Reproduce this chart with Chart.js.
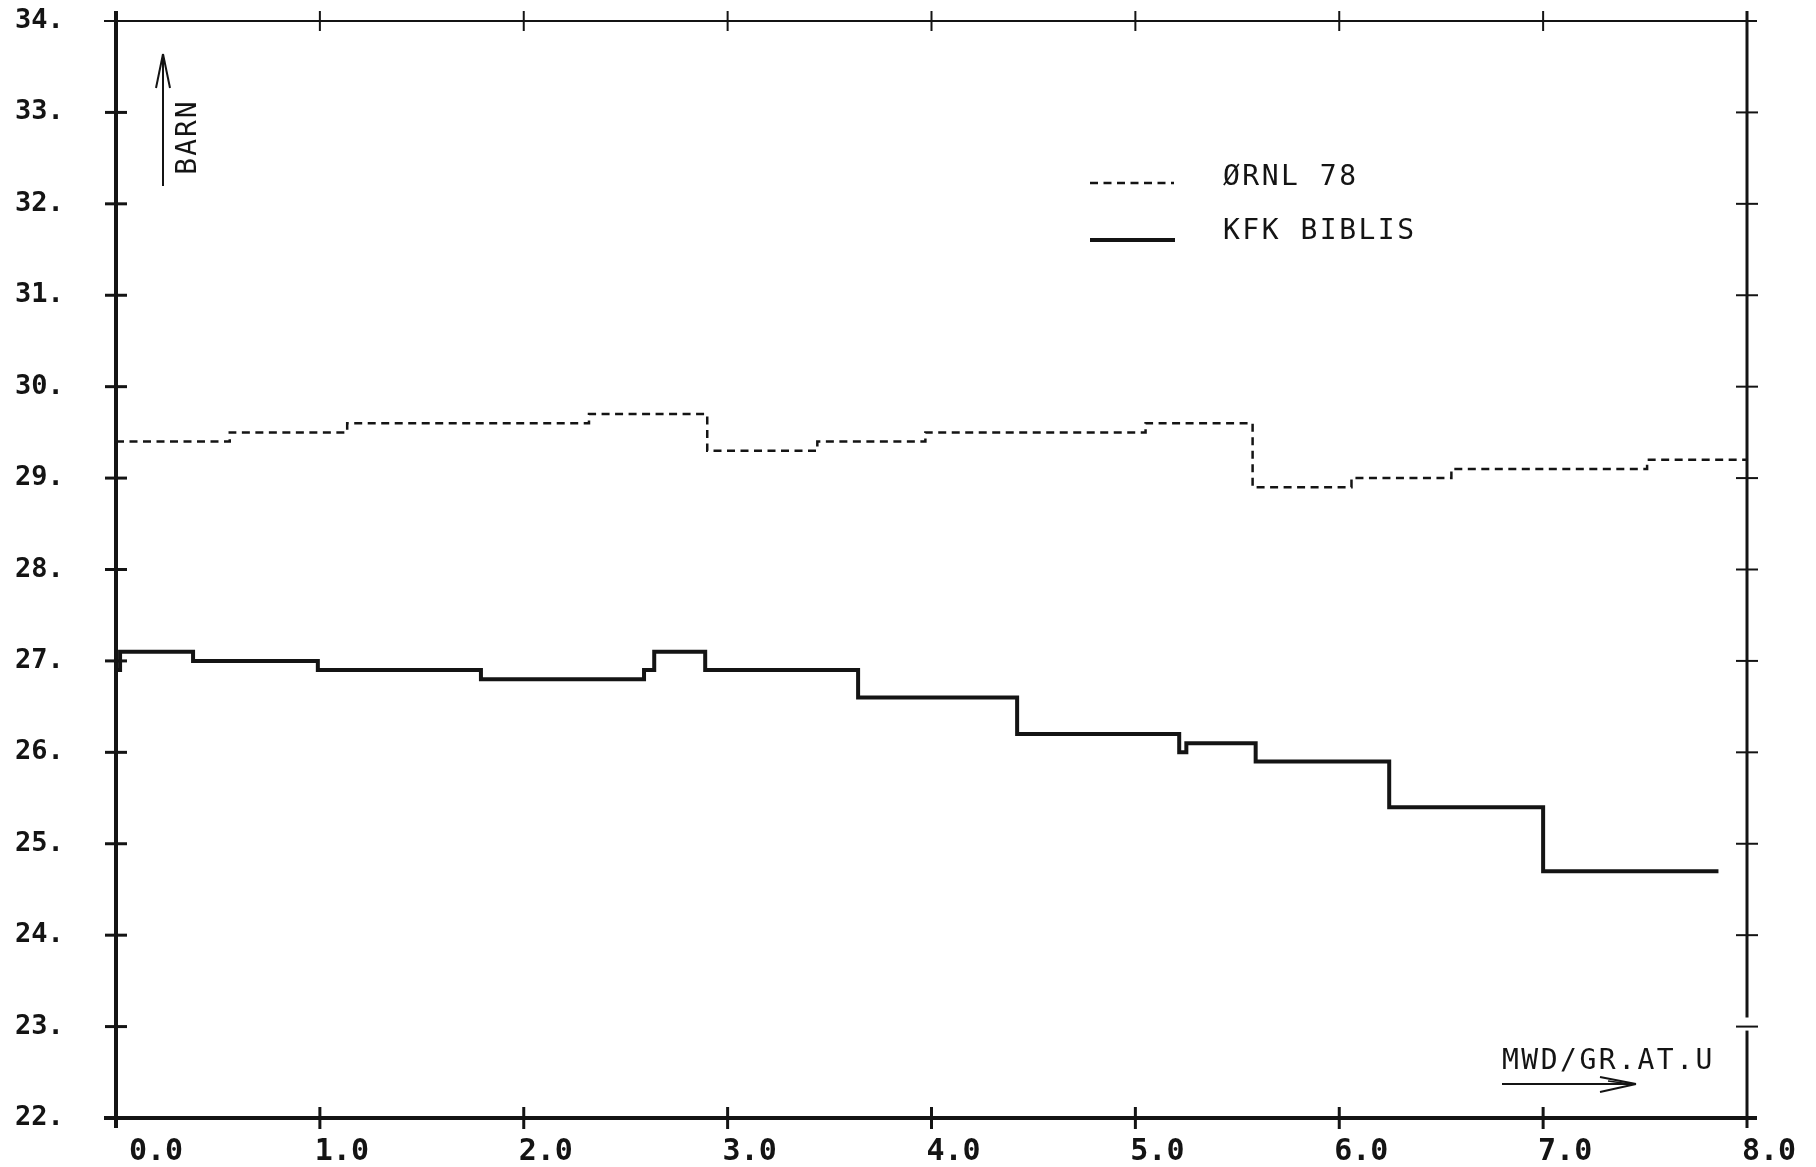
<!DOCTYPE html>
<html>
<head>
<meta charset="utf-8">
<script src="https://cdn.jsdelivr.net/npm/chart.js@4.4.1/dist/chart.umd.min.js"></script>
<style>
	html, body { margin: 0; padding: 0; background: #fff; }
	#wrap { position: relative; width: 1816px; height: 1167px; }
</style>
</head>
<body>
<div id="wrap"><canvas id="chart"></canvas></div>
<script>
// burnup axis (MWD/GR.AT.U) and cross section axis (BARN)
const xRange = [0, 8];
const yRange = [22, 34];

// step edges along x, and the value held until the next edge
const ornlEdges = [0, 0.558, 1.134, 2.32, 2.9, 3.44, 3.97, 5.05, 5.575, 6.06, 6.55, 7.51, 8.0];
const ornlValues = [29.4, 29.5, 29.6, 29.7, 29.3, 29.4, 29.5, 29.6, 28.9, 29.0, 29.1, 29.2];

const kfkEdges = [0, 0.02, 0.378, 0.99, 1.79, 2.59, 2.64, 2.89, 3.64, 4.42, 5.215, 5.25, 5.59, 6.245, 7.0, 7.86];
const kfkValues = [26.9, 27.1, 27.0, 26.9, 26.8, 26.9, 27.1, 26.9, 26.6, 26.2, 26.0, 26.1, 25.9, 25.4, 24.7];

const seriesLabels = ["ØRNL 78", "KFK BIBLIS"];

const INK = "#141414";
const MONO = "'DejaVu Sans Mono', 'Liberation Mono', monospace";

const toSteps = (edges, values) =>
	edges.map((x, i) => ({ x, y: values[Math.min(i, values.length - 1)] }));

const line = (ctx, w, x1, y1, x2, y2, dash) => {
	ctx.lineWidth = w;
	ctx.setLineDash(dash || []);
	ctx.beginPath();
	ctx.moveTo(x1, y1);
	ctx.lineTo(x2, y2);
	ctx.stroke();
};

const text = (ctx, str, x, y, size, weight) => {
	ctx.font = `${weight || "normal"} ${size}px ${MONO}`;
	ctx.letterSpacing = "2.5px";
	ctx.textAlign = "left";
	ctx.textBaseline = "middle";
	ctx.fillText(str, x, y);
	ctx.letterSpacing = "0px";
};

// axes frame with ticks crossing the lines, like the plotter output
const plotterFrame = {
	id: "plotterFrame",
	afterDatasetsDraw(chart) {
		const { ctx, chartArea: a, scales } = chart;
		const sx = scales.x;
		const sy = scales.y;
		ctx.save();
		ctx.strokeStyle = INK;
		ctx.lineCap = "butt";

		line(ctx, 4, a.left, a.top - 10, a.left, a.bottom + 10);
		line(ctx, 4, a.left - 12, a.bottom, a.right + 10, a.bottom);
		line(ctx, 2, a.left - 12, a.top, a.right + 10, a.top);
		const y23 = sy.getPixelForValue(23);
		line(ctx, 3, a.right, a.top - 10, a.right, y23 - 9);
		line(ctx, 3, a.right, y23 + 4, a.right, a.bottom + 10);

		for (let v = xRange[0] + 1; v < xRange[1]; v++) {
			const px = sx.getPixelForValue(v);
			line(ctx, 3, px, a.bottom - 11, px, a.bottom + 11);
			line(ctx, 2, px, a.top - 10, px, a.top + 10);
		}
		for (let v = yRange[0] + 1; v < yRange[1]; v++) {
			const py = sy.getPixelForValue(v);
			line(ctx, 3, a.left - 11, py, a.left + 11, py);
			line(ctx, 2, a.right - 11, py, a.right + 11, py);
		}
		ctx.restore();
	},
};

// legend, axis names and arrows
const notes = {
	id: "notes",
	afterDraw(chart) {
		const { ctx } = chart;
		const ds = chart.data.datasets;
		ctx.save();
		ctx.strokeStyle = INK;
		ctx.fillStyle = INK;

		line(ctx, ds[0].borderWidth, 1090, 183, 1174, 183, ds[0].borderDash);
		text(ctx, ds[0].label, 1223, 178, 28);
		line(ctx, ds[1].borderWidth, 1090, 240, 1175, 240);
		text(ctx, ds[1].label, 1223, 232, 28);

		// BARN with upward arrow
		line(ctx, 2, 163, 186, 163, 54);
		line(ctx, 2, 156, 88, 163, 54);
		line(ctx, 2, 170, 88, 163, 54);
		ctx.save();
		ctx.translate(189, 137);
		ctx.rotate(-Math.PI / 2);
		ctx.font = `normal 28px ${MONO}`;
		ctx.letterSpacing = "2px";
		ctx.textAlign = "center";
		ctx.textBaseline = "middle";
		ctx.fillText("BARN", 0, 0);
		ctx.restore();

		// MWD/GR.AT.U with arrow to the right
		text(ctx, "MWD/GR.AT.U", 1502, 1062, 28);
		line(ctx, 2, 1502, 1084, 1636, 1084);
		line(ctx, 2, 1600, 1077, 1636, 1084);
		line(ctx, 2, 1600, 1092, 1636, 1084);
		line(ctx, 1.5, 1608, 1081, 1630, 1084);
		ctx.restore();
	},
};

new Chart(document.getElementById("chart"), {
	type: "line",
	data: {
		datasets: [
			{
				label: seriesLabels[0],
				data: toSteps(ornlEdges, ornlValues),
				stepped: true,
				borderColor: INK,
				borderWidth: 2.5,
				borderDash: [8, 5.5],
				pointRadius: 0,
				fill: false,
			},
			{
				label: seriesLabels[1],
				data: toSteps(kfkEdges, kfkValues),
				stepped: true,
				borderColor: INK,
				borderWidth: 4,
				pointRadius: 0,
				fill: false,
			},
		],
	},
	options: {
		responsive: true,
		maintainAspectRatio: false,
		animation: false,
		events: [],
		layout: {
			padding: { left: 15, top: 21, right: 69, bottom: 0 },
		},
		plugins: {
			legend: { display: false },
			tooltip: { enabled: false },
		},
		scales: {
			x: {
				type: "linear",
				min: xRange[0],
				max: xRange[1],
				grid: { display: false, drawTicks: false },
				border: { display: false },
				afterFit: (scale) => {
					scale.height = 49;
				},
				ticks: {
					stepSize: 1,
					autoSkip: false,
					maxRotation: 0,
					padding: 16,
					labelOffset: 22,
					color: INK,
					font: { family: MONO, size: 30, weight: "bold" },
					callback: (v) => (v === 0 ? "  " : "") + Number(v).toFixed(1),
				},
			},
			y: {
				type: "linear",
				min: yRange[0],
				max: yRange[1],
				grid: { display: false, drawTicks: false },
				border: { display: false },
				afterFit: (scale) => {
					scale.width = 101;
				},
				ticks: {
					stepSize: 1,
					autoSkip: false,
					crossAlign: "far",
					color: INK,
					font: { family: MONO, size: 27, weight: "bold" },
					callback: (v) => `${v}.`,
				},
			},
		},
	},
	plugins: [plotterFrame, notes],
});
</script>
</body>
</html>
